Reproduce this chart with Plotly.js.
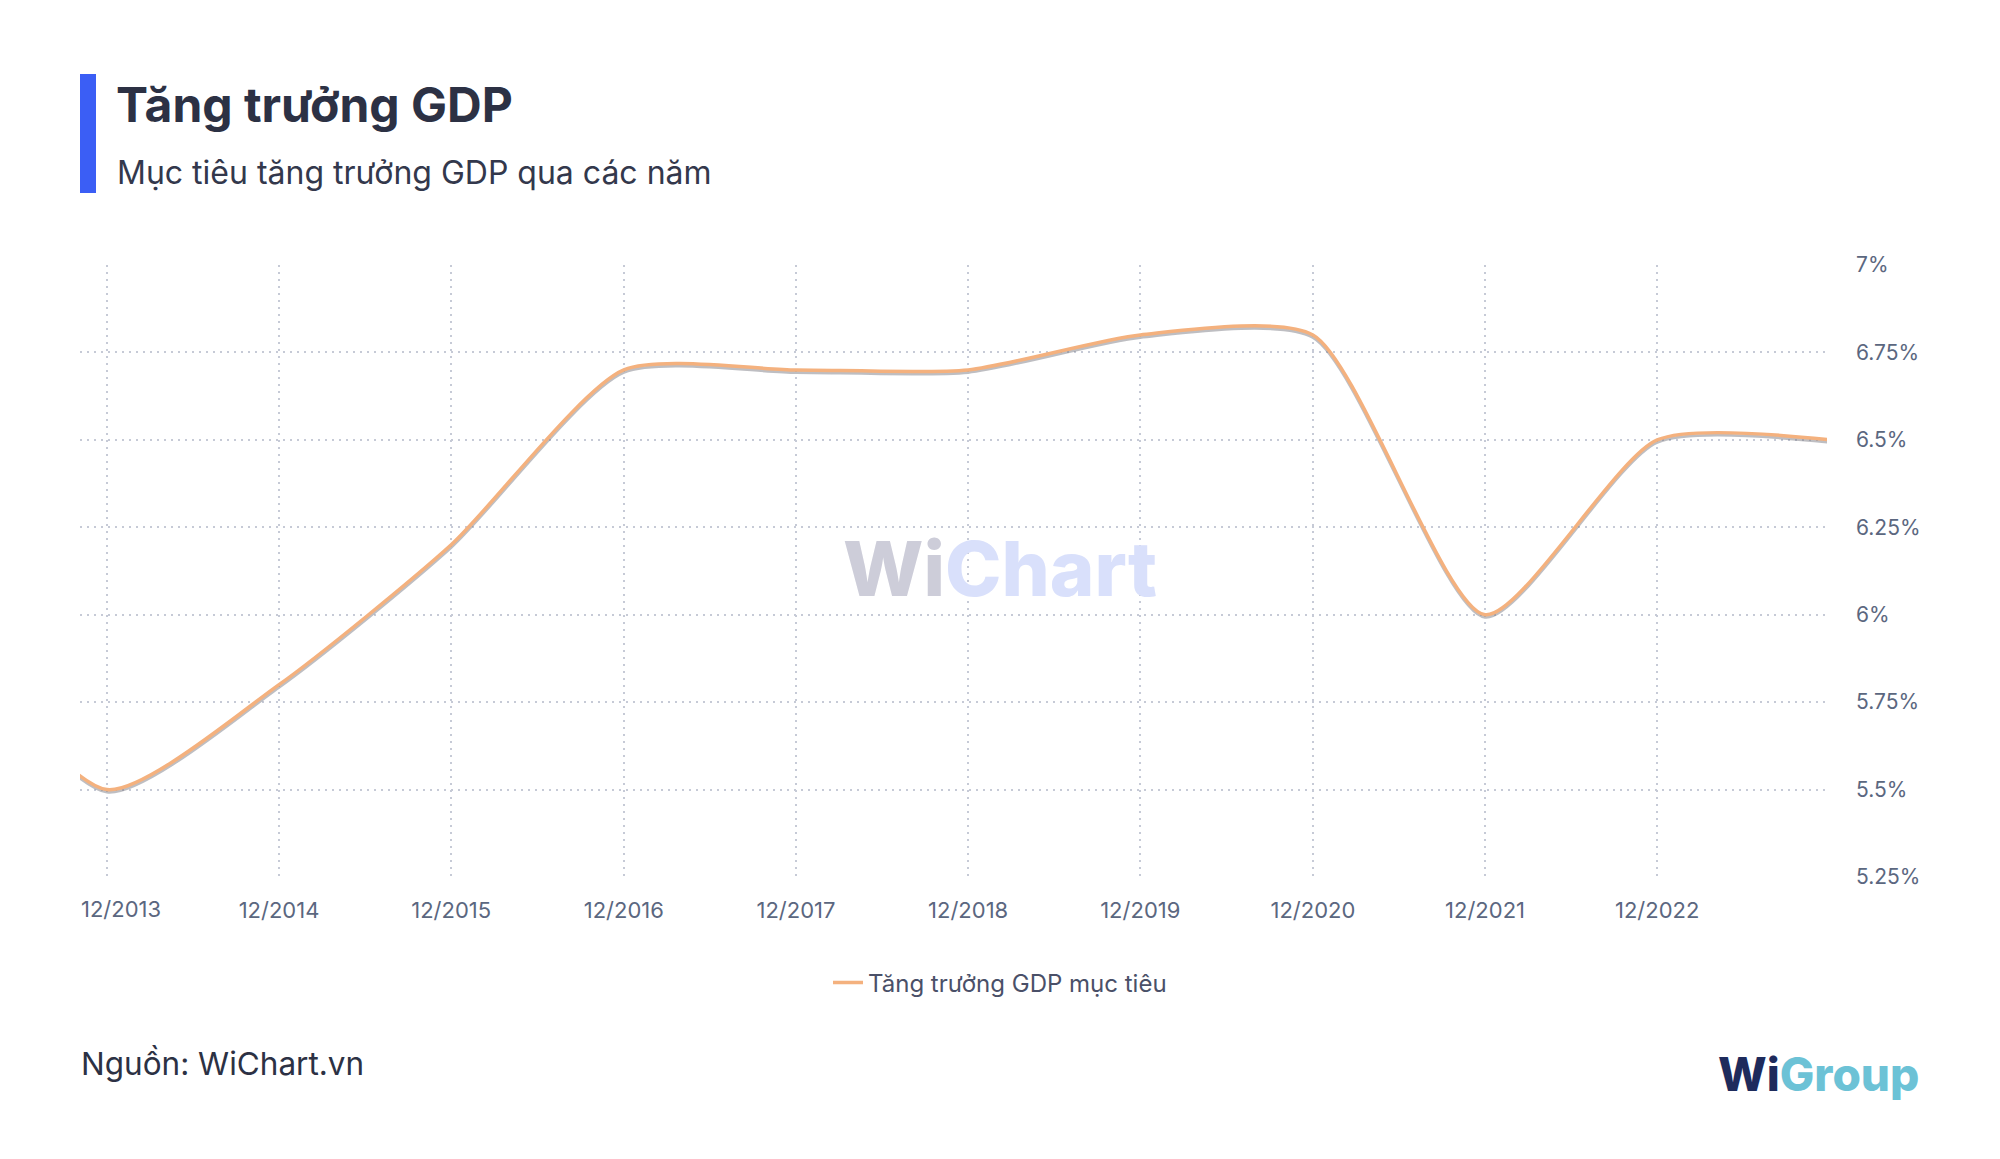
<!DOCTYPE html>
<html>
<head>
<meta charset="utf-8">
<script src="https://cdn.plot.ly/plotly-3.0.1.min.js"></script>
<style>
  html, body { margin: 0; padding: 0; background: #ffffff; }
  #chart { width: 2000px; height: 1159px; }
  .scatterlayer .trace:first-child { transform: translate(0px, 2.5px); }
</style>
</head>
<body>
<div id="chart"></div>
<script>
// ---- Data ----
const dates = ['2012-12-01','2013-12-01','2014-12-01','2015-12-01','2016-12-01','2017-12-01',
               '2018-12-01','2019-12-01','2020-12-01','2021-12-01','2022-12-01','2023-12-01'];
const gdpTarget = [6.0, 5.5, 5.8, 6.2, 6.7, 6.7, 6.7, 6.8, 6.8, 6.0, 6.5, 6.5];
const seriesName = 'Tăng trưởng GDP mục tiêu';
const xTickVals = ['2013-12-01','2014-12-01','2015-12-01','2016-12-01','2017-12-01',
                   '2018-12-01','2019-12-01','2020-12-01','2021-12-01','2022-12-01'];
const xTickText = ['12/2013','12/2014','12/2015','12/2016','12/2017',
                   '12/2018','12/2019','12/2020','12/2021','12/2022'];
const yTickVals = [5.25, 5.5, 5.75, 6, 6.25, 6.5, 6.75, 7];
const yTickText = ['5.25%','5.5%','5.75%','6%','6.25%','6.5%','6.75%','7%'];
const titleText = 'Tăng trưởng GDP';
const subtitleText = 'Mục tiêu tăng trưởng GDP qua các năm';
const sourceText = 'Nguồn: WiChart.vn';

// ---- Layout geometry ----
const W = 2000, H = 1159, L = 80, R = 173, T = 265, B = 282;
const pw = W - L - R, ph = H - T - B;
const px = x => (x - L) / pw;
const py = y => (H - B - y) / ph;

const FONT = 'Inter, "Noto Sans", sans-serif';
const gridColor = '#c6cad6';
const tickColor = '#5b6780';
const SMOOTH = 0.65;

const traces = [
  { x: dates, y: gdpTarget, type: 'scatter', mode: 'lines', showlegend: false,
    line: { color: 'rgba(110,110,120,0.45)', width: 3, shape: 'spline', smoothing: SMOOTH }, hoverinfo: 'skip' },
  { x: dates, y: gdpTarget, type: 'scatter', mode: 'lines', name: seriesName,
    line: { color: '#f4b17e', width: 3.5, shape: 'spline', smoothing: SMOOTH } }
];

const layout = {
  width: W, height: H,
  margin: { l: L, r: R, t: T, b: B },
  paper_bgcolor: '#ffffff', plot_bgcolor: '#ffffff',
  font: { family: FONT, color: tickColor },
  showlegend: true,
  legend: { orientation: 'h', xref: 'container', x: 0.5, xanchor: 'center',
            yref: 'container', y: (H - 983) / H, yanchor: 'middle',
            font: { size: 24, color: '#4a5068', family: FONT } },
  xaxis: {
    type: 'date', range: ['2013-10-05', '2023-11-26'],
    tickvals: xTickVals, ticktext: [''].concat(xTickText.slice(1)),
    showgrid: true, gridcolor: gridColor, griddash: '2px,5px', gridwidth: 2,
    zeroline: false, showline: false, ticks: '',
    tickfont: { size: 22, color: tickColor, family: FONT },
    ticklabelstandoff: 18
  },
  yaxis: {
    side: 'right', range: [5.25, 7],
    tickvals: yTickVals, ticktext: yTickText,
    showgrid: true, gridcolor: gridColor, griddash: '2px,5px', gridwidth: 2,
    zeroline: false, showline: false, ticks: '',
    tickfont: { size: 21, color: tickColor, family: FONT },
    ticklabelstandoff: 28
  },
  shapes: [
    { type: 'rect', xref: 'paper', yref: 'paper', x0: px(80), x1: px(96), y0: py(193), y1: py(74),
      fillcolor: '#3b5ef5', line: { width: 0 }, layer: 'above' }
  ],
  annotations: [
    { text: '<b>' + titleText + '</b>', xref: 'paper', yref: 'paper', x: px(114), y: py(104),
      xanchor: 'left', yanchor: 'middle', showarrow: false,
      font: { size: 48, color: '#2c3144', family: FONT } },
    { text: subtitleText, xref: 'paper', yref: 'paper', x: px(115), y: py(172),
      xanchor: 'left', yanchor: 'middle', showarrow: false,
      font: { size: 32, color: '#33384c', family: FONT } },
    { text: sourceText, xref: 'paper', yref: 'paper', x: px(79), y: py(1063),
      xanchor: 'left', yanchor: 'middle', showarrow: false,
      font: { size: 31.5, color: '#2c3144', family: FONT } },
    { text: xTickText[0], xref: 'paper', yref: 'paper', x: px(79), y: py(909),
      xanchor: 'left', yanchor: 'middle', showarrow: false,
      font: { size: 22, color: tickColor, family: FONT } },
    { text: '<span style="color:#cdcdd9">Wi</span><span style="color:#d9e0fb">Chart</span>',
      xref: 'paper', yref: 'paper', x: px(1000), y: py(568), xanchor: 'center', yanchor: 'middle',
      showarrow: false, font: { size: 76, family: FONT, weight: 800 } },
    { text: '<span style="color:#1e2b5c">Wi</span><span style="color:#6cc2d6">Group</span>',
      xref: 'paper', yref: 'paper', x: px(1921), y: py(1074), xanchor: 'right', yanchor: 'middle',
      showarrow: false, font: { size: 46, family: FONT, weight: 800 } }
  ]
};

Plotly.newPlot('chart', traces, layout, { staticPlot: true, displayModeBar: false });
</script>
</body>
</html>
